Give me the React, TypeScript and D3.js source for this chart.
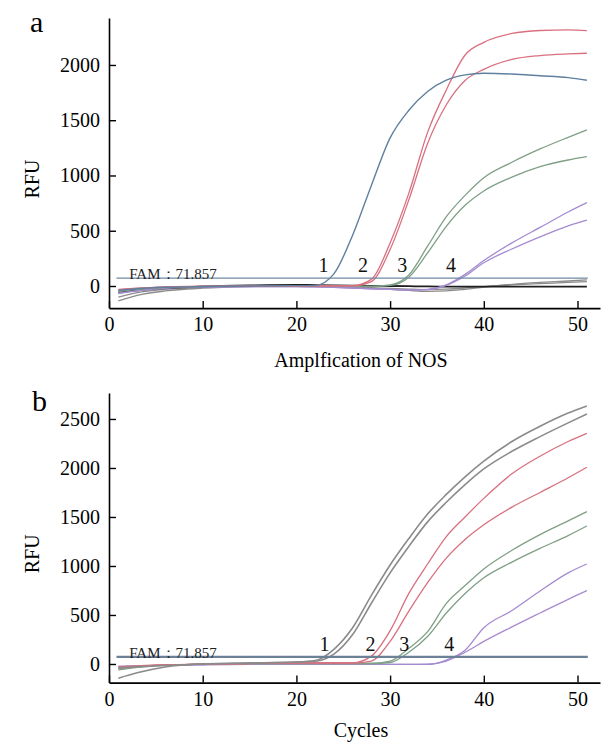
import React, { useEffect, useRef } from "react";
import * as d3 from "d3";

// sampled cycles shared by every curve
const cycles = [1, 3, 6, 10, 15, 20, 22, 24, 26, 28, 30, 32, 34, 36, 38, 40, 43, 46, 49, 51];

// panel a - amplification of NOS
const blueA = [-40, -25, -12, -5, 0, 3, 5, 110, 460, 910, 1340, 1590, 1760, 1862, 1910, 1925, 1918, 1902, 1885, 1862];
const redA1 = [-30, -20, -8, -2, 0, 2, 2, 2, 3, 60, 390, 840, 1390, 1774, 2090, 2205, 2285, 2312, 2318, 2311];
const redA2 = [-35, -22, -10, -3, 0, 2, 2, 2, 2, 40, 330, 780, 1290, 1640, 1860, 1960, 2050, 2085, 2100, 2106];
const greenA1 = [-50, -30, -12, -4, 0, 2, 2, 0, -2, -3, 10, 100, 360, 627, 820, 980, 1120, 1240, 1345, 1412];
const greenA2 = [-45, -28, -12, -4, 0, 2, 2, 0, -2, -4, 5, 80, 300, 540, 730, 860, 985, 1080, 1140, 1170];
const purpleA1 = [-70, -45, -20, -8, -5, -5, -8, -12, -18, -25, -30, -35, -30, 10, 105, 230, 390, 530, 670, 754];
const purpleA2 = [-65, -42, -20, -8, -5, -5, -8, -12, -18, -25, -30, -35, -32, 5, 90, 210, 335, 445, 545, 597];
const blackA = [-55, -40, -20, -5, 5, 10, 8, 6, 4, 2, 0, -2, -4, -5, -5, -6, -6, -6, -6, -6];
const grayA1 = [-135, -85, -45, -20, -5, 0, -3, -8, -15, -22, -30, -40, -48, -45, -30, -10, 15, 32, 45, 55];
const grayA2 = [-100, -60, -30, -12, -3, 0, -2, -6, -10, -15, -22, -28, -32, -28, -18, -5, 10, 22, 32, 40];

// panel b
const grayB1 = [-145, -90, -30, 0, 10, 20, 35, 150, 370, 700, 1010, 1280, 1530, 1730, 1910, 2070, 2270, 2425, 2560, 2633];
const grayB2 = [-40, -30, -15, 0, 10, 20, 28, 100, 300, 620, 930, 1200, 1450, 1650, 1830, 1990, 2170, 2320, 2460, 2551];
const redB1 = [-40, -25, -10, -2, 5, 10, 12, 12, 12, 80, 340, 720, 1020, 1300, 1500, 1690, 1940, 2120, 2270, 2354];
const redB2 = [-30, -20, -8, -2, 5, 10, 10, 10, 10, 30, 230, 540, 830, 1080, 1270, 1420, 1600, 1750, 1900, 2007];
const greenB1 = [-60, -35, -12, -2, 3, 5, 5, 5, 5, 5, 30, 160, 330, 619, 800, 970, 1160, 1320, 1460, 1554];
const greenB2 = [-50, -30, -10, -2, 3, 5, 5, 5, 5, 5, 15, 120, 280, 520, 720, 880, 1040, 1180, 1310, 1408];
const purpleB1 = [-25, -20, -12, -8, -5, -5, -5, -5, -5, -5, -5, -5, -5, 40, 140, 370, 545, 745, 930, 1020];
const purpleB2 = [-25, -20, -12, -8, -5, -5, -5, -5, -5, -5, -5, -5, -3, 30, 120, 230, 378, 520, 660, 748];

const threshold = 71.857;
const xTicks = [0, 10, 20, 30, 40, 50];
const yTicksA = [0, 500, 1000, 1500, 2000];
const yTicksB = [0, 500, 1000, 1500, 2000, 2500];
const curveLabels = ["1", "2", "3", "4"];
const labelCyclesA = [22.9, 27.1, 31.3, 36.5];
const labelCyclesB = [23.0, 27.9, 31.5, 36.3];

const C = {
  blue: "#5f7f9e",
  red: "#d8707f",
  green: "#7f9f86",
  purple: "#a58bd0",
  gray: "#8b8b8b",
  black: "#1f1f1f",
};

const FONT = "'Liberation Serif', 'Times New Roman', serif";

const panels = [
  {
    letter: "a",
    title: "Amplfication of NOS",
    yDomain: [-200, 2425],
    yRange: [308.1, 18],
    yTicks: yTicksA,
    letterPos: [30, 32],
    titleY: 366.5,
    labelCycles: labelCyclesA,
    labelValue: 129,
    threshColor: "#7089a3",
    threshWidth: 1.2,
    series: [
      { v: grayA1, c: C.gray, w: 1.3 },
      { v: grayA2, c: C.gray, w: 1.3 },
      { v: blackA, c: C.black, w: 1.8 },
      { v: purpleA1, c: C.purple, w: 1.3 },
      { v: purpleA2, c: C.purple, w: 1.3 },
      { v: greenA1, c: C.green, w: 1.3 },
      { v: greenA2, c: C.green, w: 1.3 },
      { v: redA1, c: C.red, w: 1.3 },
      { v: redA2, c: C.red, w: 1.3 },
      { v: blueA, c: C.blue, w: 1.4 },
    ],
  },
  {
    letter: "b",
    title: "Cycles",
    yDomain: [-190, 2765],
    yRange: [682.6, 393],
    yTicks: yTicksB,
    letterPos: [32, 410.5],
    titleY: 737,
    labelCycles: labelCyclesB,
    labelValue: 136,
    threshColor: "#6c8096",
    threshWidth: 2.2,
    series: [
      { v: purpleB1, c: C.purple, w: 1.3 },
      { v: purpleB2, c: C.purple, w: 1.3 },
      { v: greenB1, c: C.green, w: 1.3 },
      { v: greenB2, c: C.green, w: 1.3 },
      { v: redB1, c: C.red, w: 1.3 },
      { v: redB2, c: C.red, w: 1.3 },
      { v: grayB1, c: C.gray, w: 1.6 },
      { v: grayB2, c: C.gray, w: 1.6 },
    ],
  },
];

const App = () => {
  const svgRef = useRef<SVGSVGElement>(null);

  useEffect(() => {
    const svg = d3.select(svgRef.current);
    svg.selectAll("*").remove();

    const x = d3.scaleLinear().domain([0, 52.4]).range([109, 600]);

    panels.forEach((p) => {
      const y = d3.scaleLinear().domain(p.yDomain).range(p.yRange);
      const g = svg.append("g");

      // curves
      const line = d3
        .line<number>()
        .x((_, i) => x(cycles[i]))
        .y((d) => y(d))
        .curve(d3.curveMonotoneX);

      p.series.forEach((s) => {
        g.append("path")
          .attr("d", line(s.v))
          .attr("fill", "none")
          .attr("stroke", s.c)
          .attr("stroke-width", s.w);
      });

      // threshold
      g.append("line")
        .attr("x1", x(0.8))
        .attr("x2", x(51.1))
        .attr("y1", y(threshold))
        .attr("y2", y(threshold))
        .attr("stroke", p.threshColor)
        .attr("stroke-width", p.threshWidth);

      g.append("text")
        .attr("x", x(2.15))
        .attr("y", y(threshold) + 1)
        .attr("font-family", FONT)
        .attr("font-size", 15)
        .attr("fill", "#222")
        .text("FAM：71.857");

      // curve numbers
      g.selectAll(".num")
        .data(curveLabels)
        .enter()
        .append("text")
        .attr("x", (_, i) => x(p.labelCycles[i]))
        .attr("y", y(p.labelValue))
        .attr("text-anchor", "middle")
        .attr("font-family", FONT)
        .attr("font-size", 20)
        .attr("fill", "#111")
        .text((d) => d);

      // axes
      const xAxis = g
        .append("g")
        .attr("transform", `translate(0,${p.yRange[0]})`)
        .call(d3.axisBottom(x).tickValues(xTicks).tickSize(-7).tickSizeOuter(0).tickPadding(9).tickFormat(d3.format("d")));
      const yAxis = g
        .append("g")
        .attr("transform", "translate(109,0)")
        .call(d3.axisLeft(y).tickValues(p.yTicks).tickSize(-7).tickSizeOuter(0).tickPadding(9).tickFormat(d3.format("d")));

      [xAxis, yAxis].forEach((a) => {
        a.attr("font-family", FONT).attr("font-size", 20);
        a.select(".domain").attr("stroke", "#000").attr("stroke-width", 1.6);
        a.selectAll(".tick line").attr("stroke", "#000").attr("stroke-width", 1.4);
        a.selectAll(".tick text").attr("fill", "#000");
      });

      // titles
      g.append("text")
        .attr("x", p.letterPos[0])
        .attr("y", p.letterPos[1])
        .attr("font-family", FONT)
        .attr("font-size", 30)
        .text(p.letter);

      const mid = (p.yRange[0] + p.yRange[1]) / 2;
      g.append("text")
        .attr("transform", `translate(39,${mid + 16}) rotate(-90)`)
        .attr("text-anchor", "middle")
        .attr("font-family", FONT)
        .attr("font-size", 20)
        .text("RFU");

      g.append("text")
        .attr("x", 361)
        .attr("y", p.titleY)
        .attr("text-anchor", "middle")
        .attr("font-family", FONT)
        .attr("font-size", 20)
        .text(p.title);
    });
  }, []);

  return (
    <svg
      ref={svgRef}
      width={601}
      height={742}
      style={{ position: "absolute", left: 0, top: 0, background: "#fff" }}
    />
  );
};

export default App;
